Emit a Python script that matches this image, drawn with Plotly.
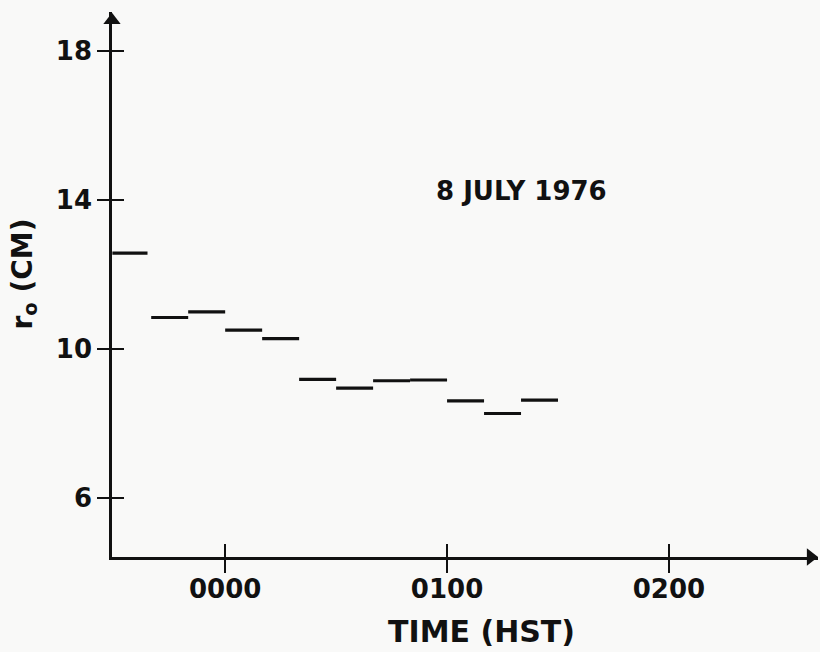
import plotly.graph_objects as go

# Data: 10-minute averages of r0 (cm), time in minutes relative to 0000 HST
seg_start = [-30.5, -20, -10, 0, 10, 20, 30, 40, 50, 60, 70, 80]
seg_end = [-21, -10, 0, 10, 20, 30, 40, 50, 60, 70, 80, 90]
r0_cm = [12.58, 10.85, 11.00, 10.51, 10.28, 9.19, 8.95, 9.15, 9.17, 8.61, 8.27, 8.63]

x_tick_vals = [0, 60, 120]
x_tick_text = ["0000", "0100", "0200"]
y_tick_vals = [6, 10, 14, 18]
y_tick_text = ["6", "10", "14", "18"]

x_range = [-30.6, 160.3]
y_range = [4.415, 19.058]

FONT = "DejaVu Sans"
INK = "#111111"
BG = "#f9f9f8"

xs, ys = [], []
for a, b, v in zip(seg_start, seg_end, r0_cm):
    xs += [a, b, None]
    ys += [v, v, None]

fig = go.Figure()
fig.add_trace(go.Scatter(x=xs, y=ys, mode="lines",
                         line=dict(color=INK, width=3.2),
                         hoverinfo="skip", showlegend=False))
# dummy trace to activate overlay axes (inside half of crossing ticks)
fig.add_trace(go.Scatter(x=[None], y=[None], xaxis="x2", yaxis="y2",
                         showlegend=False, hoverinfo="skip"))
# arrowheads at the axis ends
fig.add_trace(go.Scatter(x=[x_range[1] - 2.0], y=[y_range[0]], mode="markers",
                         marker=dict(symbol="triangle-right", size=15, color=INK),
                         cliponaxis=False, hoverinfo="skip", showlegend=False))
fig.add_trace(go.Scatter(x=[x_range[0]], y=[y_range[1] - 0.22], mode="markers",
                         marker=dict(symbol="triangle-up", size=15, color=INK),
                         cliponaxis=False, hoverinfo="skip", showlegend=False))

axis_common = dict(showgrid=False, zeroline=False, showline=True,
                   linecolor=INK, linewidth=2.5, tickcolor=INK,
                   tickwidth=2.2, fixedrange=True)

fig.update_layout(
    width=820, height=652,
    margin=dict(l=112, r=2, t=12, b=95),
    paper_bgcolor=BG, plot_bgcolor=BG,
    font=dict(family=FONT, color=INK),
    xaxis=dict(range=x_range, tickvals=x_tick_vals, ticktext=x_tick_text,
               ticks="outside", ticklen=13, ticklabelstandoff=-6,
               tickfont=dict(size=26, family=FONT, color=INK, weight="bold"),
               anchor="y", **axis_common),
    yaxis=dict(range=y_range, tickvals=y_tick_vals, ticktext=y_tick_text,
               ticks="outside", ticklen=12, ticklabelstandoff=0,
               tickfont=dict(size=26, family=FONT, color=INK, weight="bold"),
               anchor="x", **axis_common),
    xaxis2=dict(range=x_range, tickvals=x_tick_vals, overlaying="x",
                anchor="y", side="bottom", ticks="inside", ticklen=13,
                showticklabels=False, **axis_common),
    yaxis2=dict(range=y_range, tickvals=y_tick_vals, overlaying="y",
                anchor="x", side="left", ticks="inside", ticklen=12,
                showticklabels=False, **axis_common),
)

# titles
fig.add_annotation(text="8 JULY 1976", x=80, y=14.25, xref="x", yref="y",
                   showarrow=False,
                   font=dict(size=26, family=FONT, color=INK, weight="bold"))
fig.add_annotation(text="TIME (HST)", x=0.5227, y=0, xref="paper", yref="paper",
                   xanchor="center", yanchor="top", yshift=-55, showarrow=False,
                   font=dict(size=30, family=FONT, color=INK, weight="bold"))
fig.add_annotation(text="r<sub>o</sub> (CM)", x=0, y=0.5, xref="paper", yref="paper",
                   textangle=-90, xanchor="center", xshift=-88, yshift=10,
                   showarrow=False,
                   font=dict(size=28, family=FONT, color=INK, weight="bold"))

fig.write_html("out.html", config={"displayModeBar": False},
               post_script="document.body.style.margin='0';"
                           "document.body.style.background='%s';" % BG)
